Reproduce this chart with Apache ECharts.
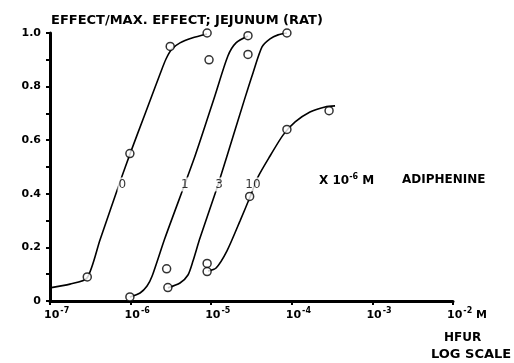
<!DOCTYPE html>
<html>
<head>
<meta charset="utf-8">
<script src="https://cdn.jsdelivr.net/npm/echarts@6/dist/echarts.min.js"></script>
<style>
  html, body { margin: 0; padding: 0; background: #fff; }
  #chart { width: 514px; height: 363px; }
</style>
</head>
<body>
<div id="chart"></div>
<script>
// HFUR concentration (M) vs effect / max effect

// drawn curves
const line0 = [[1.0e-7, 0.049], [1.77e-7, 0.063], [2.88e-7, 0.086], [4.17e-7, 0.228], [7.6e-7, 0.455],
  [9.84e-7, 0.549], [1.51e-6, 0.698], [2.32e-6, 0.847], [2.75e-6, 0.903], [3.26e-6, 0.94],
  [4.1e-6, 0.963], [5.78e-6, 0.981], [8.87e-6, 0.996]]
const line1 = [[9.8e-7, 0.015], [1.31e-6, 0.03], [1.6e-6, 0.056], [1.85e-6, 0.093], [2.67e-6, 0.235],
  [6.3e-6, 0.541], [1.11e-5, 0.765], [1.61e-5, 0.914], [2.03e-5, 0.963], [2.86e-5, 0.989]]
const line3 = [[2.9e-6, 0.049], [4.1e-6, 0.067], [5.15e-6, 0.097], [5.94e-6, 0.149], [7.26e-6, 0.235],
  [1.18e-5, 0.422], [1.53e-5, 0.53], [2.62e-5, 0.757], [3.3e-5, 0.851], [4.27e-5, 0.948],
  [5.37e-5, 0.978], [6.75e-5, 0.993], [8.7e-5, 1.0]]
const line10 = [[9.12e-6, 0.112], [1.15e-5, 0.123], [1.57e-5, 0.187], [2.28e-5, 0.299], [3.03e-5, 0.388],
  [3.81e-5, 0.463], [5.37e-5, 0.541], [7.78e-5, 0.619], [1.1e-4, 0.668], [1.68e-4, 0.705],
  [2.58e-4, 0.724], [3.44e-4, 0.728]]

// measured points (open circles)
const pts0 = [[2.9e-7, 0.09], [9.8e-7, 0.55], [3.1e-6, 0.95], [8.9e-6, 1.0]]
const pts1 = [[9.8e-7, 0.015], [2.8e-6, 0.12], [9.4e-6, 0.9], [2.86e-5, 0.99]]
const pts3 = [[2.9e-6, 0.05], [2.86e-5, 0.92], [8.7e-5, 1.0]]
const pts10 = [[8.9e-6, 0.14], [8.9e-6, 0.11], [3.0e-5, 0.39], [8.7e-5, 0.64], [2.9e-4, 0.71]]

// curve labels: adiphenine concentration x 10^-6 M
const curveLabels = [['0', 7.9e-7, 0.435], ['1', 4.7e-6, 0.435], ['3', 1.25e-5, 0.435], ['10', 3.3e-5, 0.435]]

const font = 'DejaVu Sans'

let lineSeries = function (data) {
  return {
    type: 'line',
    data: data,
    smooth: 0.25,
    showSymbol: false,
    silent: true,
    lineStyle: { color: '#000', width: 1.6 }
  }
}
let pointSeries = function (data) {
  return {
    type: 'scatter',
    data: data,
    symbol: 'circle',
    symbolSize: 8,
    itemStyle: { color: '#fff', borderColor: '#000', borderWidth: 1.5 },
    z: 5
  }
}

let myChart = echarts.init(document.getElementById('chart'), null, { renderer: 'canvas' })
let option = {
  backgroundColor: '#fff',
  animation: false,
  textStyle: { fontFamily: font, color: '#000' },
  grid: { left: 50, top: 33, width: 403, height: 268 },
  title: {
    text: 'EFFECT/MAX. EFFECT; JEJUNUM (RAT)',
    left: 46,
    top: 9,
    textStyle: { fontFamily: font, fontSize: 13, fontWeight: 'bold', color: '#000' }
  },
  xAxis: {
    type: 'log',
    logBase: 10,
    min: 1e-7,
    max: 1e-2,
    splitLine: { show: false },
    axisLine: { onZero: false, lineStyle: { color: '#000', width: 3 } },
    axisTick: { length: 4, lineStyle: { color: '#000', width: 2 } },
    minorTick: { show: false },
    axisLabel: {
      margin: 6,
      align: 'left',
      padding: [0, 0, 0, -6],
      formatter: function (v) {
        let e = Math.round(Math.log10(v))
        return '{b|10}{s|' + e + '}' + (e === -2 ? '{b| M}' : '')
      },
      rich: {
        b: { fontFamily: font, fontSize: 11, fontWeight: 'bold', color: '#000', verticalAlign: 'bottom' },
        s: { fontFamily: font, fontSize: 8, fontWeight: 'bold', color: '#000', verticalAlign: 'top', padding: [0, 0, 6, 1] }
      }
    }
  },
  yAxis: {
    type: 'value',
    min: 0,
    max: 1,
    interval: 0.2,
    splitLine: { show: false },
    axisLine: { lineStyle: { color: '#000', width: 3 } },
    axisTick: { length: 4, lineStyle: { color: '#000', width: 2 } },
    minorTick: { show: true, splitNumber: 2, length: 4, lineStyle: { color: '#000', width: 2 } },
    axisLabel: {
      margin: 9,
      fontFamily: font,
      fontSize: 11,
      fontWeight: 'bold',
      color: '#000',
      formatter: function (v) {
        return v === 0 ? '0' : v.toFixed(1)
      }
    }
  },
  series: [
    lineSeries(line0), lineSeries(line1), lineSeries(line3), lineSeries(line10),
    pointSeries(pts0), pointSeries(pts1), pointSeries(pts3), pointSeries(pts10),
    {
      type: 'scatter',
      data: curveLabels.map(d => [d[1], d[2], d[0]]),
      symbolSize: 0,
      silent: true,
      z: 6,
      label: {
        show: true,
        position: 'inside',
        formatter: p => p.data[2],
        fontFamily: font,
        fontSize: 12,
        color: '#000',
        backgroundColor: '#fff',
        padding: [1, 1]
      }
    }
  ],
  graphic: [
    {
      type: 'text',
      left: 319,
      top: 173,
      style: {
        text: 'X 10{s|-6} M',
        fontFamily: font, fontSize: 12, fontWeight: 'bold', fill: '#000',
        rich: { s: { fontFamily: font, fontSize: 8, fontWeight: 'bold', fill: '#000', padding: [0, 0, 8, 0] } }
      }
    },
    {
      type: 'text',
      left: 402,
      top: 174,
      style: { text: 'ADIPHENINE', fontFamily: font, fontSize: 12, fontWeight: 'bold', fill: '#000' }
    },
    {
      type: 'text',
      left: 444,
      top: 332,
      style: { text: 'HFUR', fontFamily: font, fontSize: 12, fontWeight: 'bold', fill: '#000' }
    },
    {
      type: 'text',
      left: 431,
      top: 348,
      style: { text: 'LOG SCALE', fontFamily: font, fontSize: 13, fontWeight: 'bold', fill: '#000' }
    }
  ]
}
myChart.setOption(option)
myChart.resize()
</script>
</body>
</html>
